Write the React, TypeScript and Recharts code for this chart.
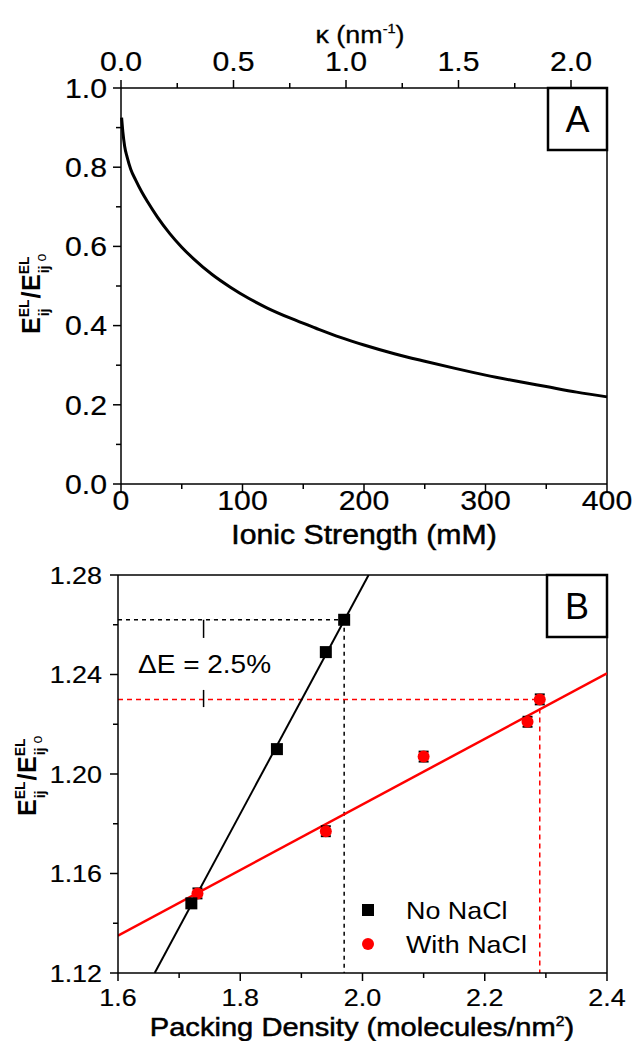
import React from "react";
import {
  ComposedChart,
  Line,
  Scatter,
  XAxis,
  YAxis,
  ReferenceLine,
  ErrorBar,
} from "recharts";

const FONT = "'Liberation Sans', Arial, Helvetica, sans-serif";
const STRETCH = 1.12;

// Panel A: relative electrostatic energy vs ionic strength
const ionicStrength = [0.5, 1.5, 3, 5, 8, 12, 17, 22, 30, 40, 50, 60, 75, 90, 105, 120, 140, 160, 180, 200, 225, 250, 275, 300, 325, 350, 375, 400];
const relativeEnergy = [0.925, 0.89, 0.853, 0.826, 0.795, 0.768, 0.738, 0.712, 0.674, 0.633, 0.598, 0.568, 0.529, 0.497, 0.469, 0.445, 0.418, 0.394, 0.371, 0.351, 0.329, 0.31, 0.292, 0.275, 0.26, 0.246, 0.232, 0.22];
const ionicTicks = [0, 50, 100, 150, 200, 250, 300, 350, 400];
const kappaTicks = [0, 0.25, 0.5, 0.75, 1, 1.25, 1.5, 1.75, 2];
const energyTicksA = [0, 0.1, 0.2, 0.3, 0.4, 0.5, 0.6, 0.7, 0.8, 0.9, 1];
// κ reached at the 400 mM end of the ionic-strength scale
const KAPPA_MAX = 2.16;

// Panel B: relative energy vs packing density
const noNaclDensity = [1.72, 1.86, 1.94, 1.97];
const noNaclEnergy = [1.148, 1.21, 1.249, 1.262];
const withNaclDensity = [1.73, 1.94, 2.1, 2.27, 2.29];
const withNaclEnergy = [1.152, 1.177, 1.207, 1.221, 1.23];
const withNaclError = [0.002, 0.002, 0.002, 0.002, 0.002];
const noNaclFitX = [1.66, 2.01];
const noNaclFitY = [1.12, 1.28];
const withNaclFitX = [1.6, 2.4];
const withNaclFitY = [1.135, 1.2405];
const densityTicks = [1.6, 1.7, 1.8, 1.9, 2.0, 2.1, 2.2, 2.3, 2.4];
const energyTicksB = [1.12, 1.14, 1.16, 1.18, 1.2, 1.22, 1.24, 1.26, 1.28];

const curveData = ionicStrength.map((x, i) => ({ x, y: relativeEnergy[i] }));
const noNaclData = noNaclDensity.map((x, i) => ({ x, y: noNaclEnergy[i] }));
const withNaclData = withNaclDensity.map((x, i) => ({
  x,
  y: withNaclEnergy[i],
  err: withNaclError[i],
}));
const noNaclFit = noNaclFitX.map((x, i) => ({ x, y: noNaclFitY[i] }));
const withNaclFit = withNaclFitX.map((x, i) => ({ x, y: withNaclFitY[i] }));

const toIonic = (k: number) => (k * 400) / KAPPA_MAX;
const toKappa = (v: number) => (v * KAPPA_MAX) / 400;

const last = (a: number[]) => a[a.length - 1];
const blackGuide = { x: last(noNaclDensity), y: last(noNaclEnergy) };
const redGuide = { x: last(withNaclDensity), y: last(withNaclEnergy) };

function SText({
  x,
  y,
  size,
  anchor = "start",
  weight = "normal",
  sx = STRETCH,
  heavy = 0,
  children,
}: {
  x: number;
  y: number;
  size: number;
  anchor?: "start" | "middle" | "end";
  weight?: string | number;
  sx?: number;
  heavy?: number;
  children: React.ReactNode;
}) {
  return (
    <g transform={`translate(${x},${y}) scale(${sx},1)`}>
      <text
        x={0}
        y={0}
        fontSize={size}
        textAnchor={anchor}
        fontFamily={FONT}
        fontWeight={weight}
        fill="#000"
        stroke={heavy ? "#000" : "none"}
        strokeWidth={heavy}
      >
        {children}
      </text>
    </g>
  );
}

const onStep = (step: number) => (v: number) =>
  Math.abs(v / step - Math.round(v / step)) < 1e-6;

// ticks drawn by hand so minor ticks can go without labels
function makeTick(
  side: "bottom" | "left" | "top",
  isMajor: (v: number) => boolean,
  fmt: (v: number) => string,
  size: number,
  gap: number
) {
  return (props: any) => {
    const { x, y, payload } = props;
    const v = payload.value as number;
    const major = isMajor(v);
    const len = major ? 8 : 5;
    let line;
    let label = null;
    if (side === "bottom") {
      line = <line x1={x} y1={y} x2={x} y2={y + len} />;
      if (major)
        label = (
          <SText x={x} y={y + gap} size={size} anchor="middle" heavy={0.2}>
            {fmt(v)}
          </SText>
        );
    } else if (side === "top") {
      line = <line x1={x} y1={y} x2={x} y2={y - len} />;
      if (major)
        label = (
          <SText x={x} y={y - gap} size={size} anchor="middle" heavy={0.2}>
            {fmt(v)}
          </SText>
        );
    } else {
      line = <line x1={x} y1={y} x2={x - len} y2={y} />;
      if (major)
        label = (
          <SText x={x - gap} y={y + size * 0.36} size={size} anchor="end" heavy={0.2}>
            {fmt(v)}
          </SText>
        );
    }
    return (
      <g>
        <g stroke="#000" strokeWidth={1.5}>{line}</g>
        {label}
      </g>
    );
  };
}

function EnergyLabel({ cx, cy }: { cx: number; cy: number }) {
  const big = 25;
  const small = 14;
  const bold = { fontFamily: FONT, fontWeight: 700, fill: "#000" } as const;
  const eW = big * 0.667;
  const elW = small * 1.278;
  const slashW = big * 0.3;
  const ijW = small * 0.556;
  const x0 = -44;
  const x1 = x0 + eW;
  const x2 = x1 + elW + 1;
  const x3 = x2 + slashW;
  const x4 = x3 + eW;
  return (
    <g transform={`translate(${cx},${cy}) rotate(-90)`}>
      <text x={x0} y={0} fontSize={big} {...bold}>E</text>
      <text x={x1} y={-11} fontSize={small} {...bold}>EL</text>
      <text x={x1 + 1} y={9} fontSize={small} {...bold}>ij</text>
      <text x={x2} y={0} fontSize={big} {...bold}>/</text>
      <text x={x3} y={0} fontSize={big} {...bold}>E</text>
      <text x={x4} y={-11} fontSize={small} {...bold}>EL</text>
      <text x={x4 + 1} y={9} fontSize={small} {...bold}>ij</text>
      <text x={x4 + ijW + 5} y={6} fontSize={small} fontFamily={FONT} fill="#000">o</text>
    </g>
  );
}

const axisLine = { stroke: "#000", strokeWidth: 1.5 };

export default function App() {
  return (
    <div
      style={{
        position: "absolute",
        left: 0,
        top: 0,
        width: 634,
        height: 1041,
        background: "#fff",
        overflow: "hidden",
      }}
    >
      <div style={{ position: "absolute", left: 0, top: 0 }}>
        <ComposedChart
          width={634}
          height={548}
          data={curveData}
          margin={{ top: 0, right: 27, bottom: 0, left: 0 }}
        >
          <XAxis
            dataKey="x"
            type="number"
            domain={[0, 400]}
            ticks={ionicTicks}
            interval={0}
            height={64}
            tickSize={0}
            tickMargin={0}
            axisLine={axisLine}
            tick={makeTick("bottom", onStep(100), (v) => String(v), 27, 26)}
          />
          {/* κ scale along the top, a relabelling of the ionic-strength axis */}
          <XAxis
            xAxisId="kappa"
            dataKey="x"
            orientation="top"
            type="number"
            domain={[0, 400]}
            allowDataOverflow
            ticks={kappaTicks.map(toIonic)}
            interval={0}
            height={88}
            tickSize={0}
            tickMargin={0}
            axisLine={axisLine}
            tick={makeTick(
              "top",
              (v) => onStep(0.5)(toKappa(v)),
              (v) => toKappa(v).toFixed(1),
              27,
              17
            )}
          />
          <YAxis
            type="number"
            domain={[0, 1]}
            ticks={energyTicksA}
            interval={0}
            width={121}
            tickSize={0}
            tickMargin={0}
            axisLine={axisLine}
            tick={makeTick("left", onStep(0.2), (v) => v.toFixed(1), 27, 14)}
          />
          <ReferenceLine x={400} stroke="#000" strokeWidth={1.5} />
          <Line
            dataKey="y"
            type="monotone"
            stroke="#000"
            strokeWidth={3}
            dot={false}
            isAnimationActive={false}
          />
        </ComposedChart>
      </div>

      <div style={{ position: "absolute", left: 0, top: 548 }}>
        <ComposedChart
          width={634}
          height={493}
          margin={{ top: 27, right: 27, bottom: 0, left: 0 }}
        >
          <XAxis
            dataKey="x"
            type="number"
            domain={[1.6, 2.4]}
            allowDataOverflow
            ticks={densityTicks}
            interval={0}
            height={68}
            tickSize={0}
            tickMargin={0}
            axisLine={axisLine}
            tick={makeTick("bottom", onStep(0.2), (v) => v.toFixed(1), 24, 33)}
          />
          <YAxis
            type="number"
            domain={[1.12, 1.28]}
            allowDataOverflow
            ticks={energyTicksB}
            interval={0}
            width={118}
            tickSize={0}
            tickMargin={0}
            axisLine={axisLine}
            tick={makeTick("left", onStep(0.04), (v) => v.toFixed(2), 24, 16)}
          />
          <ReferenceLine y={1.28} stroke="#000" strokeWidth={1.5} />
          <ReferenceLine x={2.4} stroke="#000" strokeWidth={1.5} />

          {/* guide lines to the highest point of each series */}
          <ReferenceLine
            segment={[{ x: 1.6, y: blackGuide.y }, blackGuide]}
            stroke="#000"
            strokeWidth={1.5}
            strokeDasharray="4 4"
          />
          <ReferenceLine
            segment={[blackGuide, { x: blackGuide.x, y: 1.12 }]}
            stroke="#000"
            strokeWidth={1.5}
            strokeDasharray="4 4"
          />
          <ReferenceLine
            segment={[{ x: 1.6, y: redGuide.y }, redGuide]}
            stroke="#ff0000"
            strokeWidth={1.5}
            strokeDasharray="5 4"
          />
          <ReferenceLine
            segment={[redGuide, { x: redGuide.x, y: 1.12 }]}
            stroke="#ff0000"
            strokeWidth={1.5}
            strokeDasharray="5 4"
          />

          {/* ΔE bracket marks */}
          <ReferenceLine
            segment={[{ x: 1.74, y: blackGuide.y }, { x: 1.74, y: 1.2547 }]}
            stroke="#000"
            strokeWidth={1.5}
          />
          <ReferenceLine
            segment={[{ x: 1.74, y: 1.2338 }, { x: 1.74, y: 1.2269 }]}
            stroke="#000"
            strokeWidth={1.5}
          />

          <Line
            data={withNaclFit}
            dataKey="y"
            type="linear"
            stroke="#ff0000"
            strokeWidth={2.5}
            dot={false}
            isAnimationActive={false}
          />
          <Line
            data={noNaclFit}
            dataKey="y"
            type="linear"
            stroke="#000"
            strokeWidth={2}
            dot={false}
            isAnimationActive={false}
          />
          <Scatter
            data={withNaclData}
            dataKey="y"
            isAnimationActive={false}
            shape={(p: any) => (
              <circle cx={p.cx} cy={p.cy} r={6} fill="#ff0000" />
            )}
          >
            <ErrorBar
              dataKey="err"
              direction="y"
              width={5}
              stroke="#000"
              strokeWidth={2}
            />
          </Scatter>
          <Scatter
            data={noNaclData}
            dataKey="y"
            isAnimationActive={false}
            shape={(p: any) => (
              <rect x={p.cx - 6} y={p.cy - 6} width={12} height={12} fill="#000" />
            )}
          />
        </ComposedChart>
      </div>

      <svg
        width={634}
        height={1041}
        style={{ position: "absolute", left: 0, top: 0, pointerEvents: "none" }}
      >
        {/* panel A labels */}
        <SText x={360} y={43} size={24} anchor="middle" heavy={0.3}>
          κ (nm<tspan dy={-10} fontSize={13}>-1</tspan>
          <tspan dy={10}>)</tspan>
        </SText>
        <SText x={364} y={544} size={27} anchor="middle" heavy={0.5}>
          Ionic Strength (mM)
        </SText>
        <EnergyLabel cx={40} cy={290} />
        <rect x={548} y={88} width={59} height={62} fill="#fff" stroke="#000" strokeWidth={2.5} />
        <SText x={577.5} y={132} size={36} anchor="middle" sx={1}>
          A
        </SText>

        {/* panel B labels */}
        <SText x={362} y={1036} size={26} anchor="middle" heavy={0.5}>
          Packing Density (molecules/nm<tspan dy={-10} fontSize={14}>2</tspan>
          <tspan dy={10}>)</tspan>
        </SText>
        <EnergyLabel cx={36} cy={772} />
        <rect x={547} y={575} width={60} height={62} fill="#fff" stroke="#000" strokeWidth={2.5} />
        <SText x={577} y={619} size={36} anchor="middle" sx={1}>
          B
        </SText>
        <SText x={138} y={673} size={25}>
          ΔE = 2.5%
        </SText>

        {/* legend */}
        <rect x={362} y={904} width={12} height={12} fill="#000" />
        <SText x={406} y={919} size={24}>
          No NaCl
        </SText>
        <circle cx={368} cy={944} r={6} fill="#ff0000" />
        <SText x={406} y={953} size={24}>
          With NaCl
        </SText>
      </svg>
    </div>
  );
}
